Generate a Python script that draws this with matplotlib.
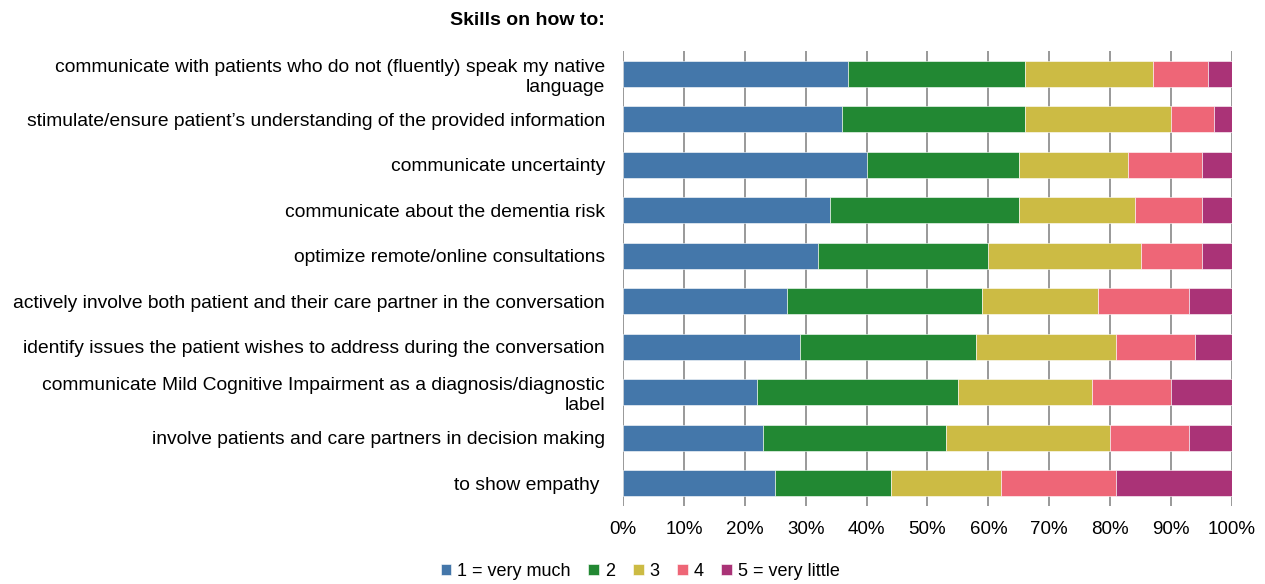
import numpy as np
import matplotlib.pyplot as plt

plt.rcParams['font.family'] = ['Liberation Sans', 'DejaVu Sans']

# skills, top to bottom
skills = [
    "communicate with patients who do not (fluently) speak my native\nlanguage",
    "stimulate/ensure patient\u2019s understanding of the provided information",
    "communicate uncertainty",
    "communicate about the dementia risk",
    "optimize remote/online consultations",
    "actively involve both patient and their care partner in the conversation",
    "identify issues the patient wishes to address during the conversation",
    "communicate Mild Cognitive Impairment as a diagnosis/diagnostic\nlabel",
    "involve patients and care partners in decision making",
    "to show empathy ",
]

# percentage per answer category
very_much   = [37, 36, 40, 34, 32, 27, 29, 22, 23, 25]
two         = [29, 30, 25, 31, 28, 32, 29, 33, 30, 19]
three       = [21, 24, 18, 19, 25, 19, 23, 22, 27, 18]
four        = [9, 7, 12, 11, 10, 15, 13, 13, 13, 19]
very_little = [4, 3, 5, 5, 5, 7, 6, 10, 7, 19]

series = [very_much, two, three, four, very_little]
names = ["1 = very much", "2", "3", "4", "5 = very little"]
colors = ["#4477AA", "#228833", "#CCBB44", "#EE6677", "#AA3377"]

fig = plt.figure(figsize=(12.65, 5.84), dpi=100)
ax = fig.add_axes([0.4925, 0.1336, 0.4814, 0.7791])

y = np.arange(len(skills))
left = np.zeros(len(skills))
for vals, name, col in zip(series, names, colors):
    vals = np.array(vals, dtype=float)
    ax.barh(y, vals, left=left, height=0.57, color=col, label=name,
            edgecolor='white', linewidth=0.4, zorder=2)
    left += vals

ax.set_xlim(0, 100)
ax.set_ylim(len(skills) - 0.5, -0.5)
ax.set_xticks(np.arange(0, 101, 10))
ax.set_xticklabels([f"{t}%" for t in range(0, 101, 10)], fontsize=13.5)
ax.set_yticks(y)
ax.set_yticklabels(skills, fontsize=13.85, linespacing=1.25)
ax.tick_params(axis='both', length=0)
ax.tick_params(axis='y', pad=13)
ax.tick_params(axis='x', pad=11)
ax.xaxis.grid(True, color='#999999', linewidth=1.4, zorder=0)
ax.set_axisbelow(True)
for s in ax.spines.values():
    s.set_visible(False)

fig.text(0.4783, 0.965, "Skills on how to:", fontsize=14, fontweight='bold',
         ha='right', va='center')

fig.legend(loc='center', bbox_to_anchor=(0.506, 0.022), ncol=5, frameon=False,
           fontsize=13, handlelength=0.6, handleheight=0.6, handletextpad=0.3,
           columnspacing=1.0)

fig.savefig("out.png", dpi=100)
